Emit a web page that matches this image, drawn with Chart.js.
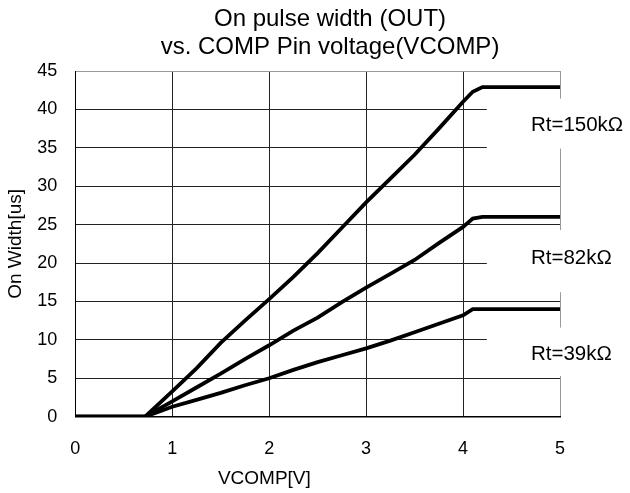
<!DOCTYPE html>
<html>
<head>
<meta charset="utf-8">
<script src="https://cdn.jsdelivr.net/npm/chart.js@4/dist/chart.umd.min.js"></script>
<style>
  body { margin: 0; background: #fff; }
  #chart { display: block; }
</style>
</head>
<body>
<canvas id="chart" width="630" height="493"></canvas>
<script>
// COMP voltage sweep [V]
const vcomp = [0, 0.5, 0.72, 1.0, 1.25, 1.5, 1.75, 2.0, 2.25, 2.5, 2.75, 3.0, 3.25, 3.5, 3.75, 4.0, 4.1, 4.2, 4.5, 5.0];

// on width [us] for each timing resistor
const width150k = [0, 0, 0, 3.3, 6.3, 9.6, 12.5, 15.3, 18.2, 21.3, 24.6, 27.9, 31.0, 34.1, 37.5, 41.0, 42.3, 42.9, 42.9, 42.9];
const width82k = [0, 0, 0, 2.0, 3.8, 5.6, 7.5, 9.3, 11.2, 12.9, 14.9, 16.8, 18.6, 20.4, 22.6, 24.7, 25.8, 26.0, 26.0, 26.0];
const width39k = [0, 0, 0, 1.3, 2.2, 3.1, 4.1, 5.0, 6.1, 7.1, 8.0, 8.9, 9.9, 11.0, 12.1, 13.2, 14.0, 14.0, 14.0, 14.0];

const seriesNames = ["Rt=150kΩ", "Rt=82kΩ", "Rt=39kΩ"];
const xTicks = [0, 1, 2, 3, 4, 5];
const yTicks = [0, 5, 10, 15, 20, 25, 30, 35, 40, 45];

const FONT = "'Liberation Sans', Arial, sans-serif";

function toPoints(ys) {
  return vcomp.map((v, i) => ({ x: v, y: ys[i] }));
}

// text boxes beside the curves (data units), white fill hides the grid
const labelBoxes = [
  { text: seriesNames[0], x: 4.7, y: 37.9, top: 41.4, bottom: 34.9 },
  { text: seriesNames[1], x: 4.7, y: 20.6, top: 24.3, bottom: 16.2 },
  { text: seriesNames[2], x: 4.7, y: 8.1, top: 11.6, bottom: 5.3 },
];

const textPlugin = {
  id: "textPlugin",
  beforeDatasetsDraw(chart) {
    const { ctx, scales } = chart;
    const xs = scales.x;
    const ys = scales.y;
    ctx.save();
    labelBoxes.forEach((b) => {
      const left = xs.getPixelForValue(4.245);
      const top = ys.getPixelForValue(b.top);
      const bottom = ys.getPixelForValue(b.bottom);
      ctx.fillStyle = "#fff";
      ctx.fillRect(left, top, chart.width - left, bottom - top);
      ctx.fillStyle = "#000";
      ctx.font = "20.5px " + FONT;
      ctx.textAlign = "left";
      ctx.textBaseline = "middle";
      ctx.fillText(b.text, xs.getPixelForValue(b.x), ys.getPixelForValue(b.y));
    });
    // two line title
    ctx.font = "24px " + FONT;
    ctx.textAlign = "center";
    ctx.textBaseline = "middle";
    ctx.fillText("On pulse width (OUT)", 330, 19);
    ctx.fillText("vs. COMP Pin voltage(VCOMP)", 330, 47);
    // x axis title, sits under the 2 V tick
    ctx.font = "19px " + FONT;
    ctx.fillText("VCOMP[V]", xs.getPixelForValue(1.95), 479);
    ctx.restore();
  },
};

const lineStyle = {
  borderColor: "#000",
  borderWidth: 3.8,
  pointRadius: 0,
  tension: 0,
  fill: false,
};

new Chart(document.getElementById("chart"), {
  type: "line",
  data: {
    datasets: [
      { label: seriesNames[0], data: toPoints(width150k), ...lineStyle },
      { label: seriesNames[1], data: toPoints(width82k), ...lineStyle },
      { label: seriesNames[2], data: toPoints(width39k), ...lineStyle },
    ],
  },
  options: {
    responsive: false,
    animation: false,
    layout: { padding: { top: 71, right: 70, bottom: 0, left: 0 } },
    plugins: {
      legend: { display: false },
      tooltip: { enabled: false },
    },
    scales: {
      x: {
        type: "linear",
        min: 0,
        max: 5,
        afterBuildTicks: (s) => { s.ticks = xTicks.map((v) => ({ value: v })); },
        afterFit: (s) => { s.height = 76.3; },
        ticks: { color: "#000", padding: 22, font: { family: FONT, size: 18 } },
        grid: {
          drawTicks: false,
          color: (c) => (c.tick && c.tick.value === 5 ? "#999" : "#222"),
          lineWidth: 1,
        },
        border: { color: "#000", width: 1.5 },
      },
      y: {
        min: 0,
        max: 45,
        afterBuildTicks: (s) => { s.ticks = yTicks.map((v) => ({ value: v })); },
        afterFit: (s) => { s.width = 75.3; },
        ticks: { color: "#000", padding: 18, font: { family: FONT, size: 18 } },
        grid: {
          drawTicks: false,
          color: (c) => (c.tick && c.tick.value === 45 ? "#999" : "#222"),
          lineWidth: 1,
        },
        border: { color: "#000", width: 1 },
        title: {
          display: true,
          text: "On Width[us]",
          color: "#000",
          padding: { top: 4, bottom: 0 },
          font: { family: FONT, size: 19 },
        },
      },
    },
  },
  plugins: [textPlugin],
});
</script>
</body>
</html>
